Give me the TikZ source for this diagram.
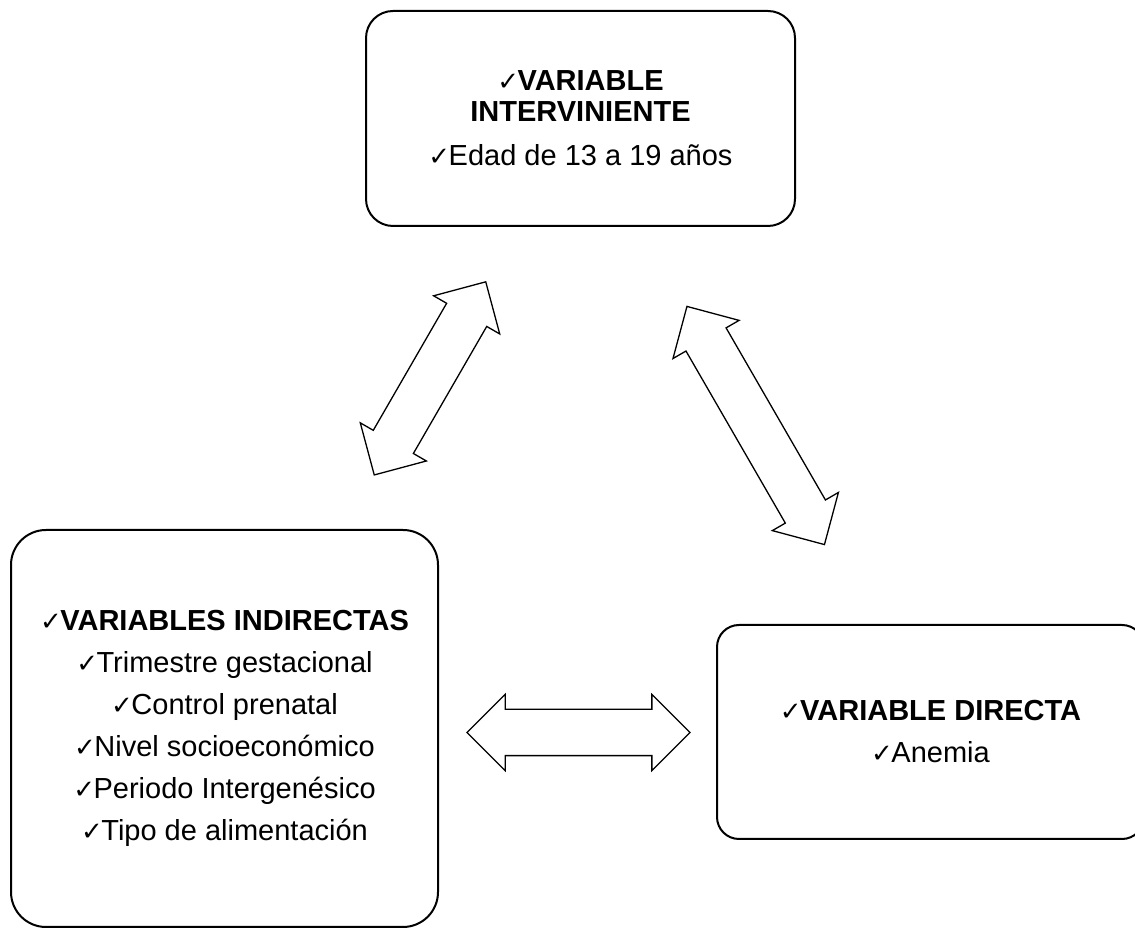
\documentclass[tikz,border=0pt]{standalone}
\usepackage{fontspec}
\setmainfont{Liberation Sans}
\newfontfamily\djv{DejaVu Sans}
\usetikzlibrary{shapes.arrows}
\newcommand\chk{{\djv\fontsize{26}{26}\selectfont ✓}\kern-1.5pt}
\begin{document}
\begin{tikzpicture}[x=1pt,y=1pt,
  box/.style={draw, line width=2pt, align=center, inner sep=0pt,
    font=\fontsize{29}{42}\selectfont},
  dbl/.style={draw, line width=1.3pt, double arrow, double arrow head extend=15pt,
    double arrow tip angle=90, inner sep=0pt, text height=22.5pt, text depth=22.5pt,
    minimum height=#1}]
\clip (0,0) rectangle (1135,928);
\fill[white] (0,0) rectangle (1135,928);
\node[box, rounded corners=27pt, minimum width=429pt, minimum height=215pt] (top) at (580.5,809.5)
  {\textbf{\chk VARIABLE}\\[-11pt]\textbf{INTERVINIENTE}\\[2pt]\chk Edad de 13 a 19 años};
\node[box, rounded corners=35pt, minimum width=427pt, minimum height=397pt] (ind) at (224.5,199.5)
  {\textbf{\chk VARIABLES INDIRECTAS}\\\chk Trimestre gestacional\\\chk Control prenatal\\
   \chk Nivel socioeconómico\\\chk Periodo Intergenésico\\\chk Tipo de alimentación};
\node[box, rounded corners=22pt, minimum width=427pt, minimum height=214pt] (dir) at (930.5,196)
  {\textbf{\chk VARIABLE DIRECTA}\\\chk Anemia};
\node[dbl=223pt, rotate=60] (a1) at (430,549.6) {};
\node[dbl=275pt, rotate=-60] (a2) at (755.7,502.5) {};
\node[dbl=223pt] (a3) at (578.5,195.5) {};
\end{tikzpicture}
\end{document}
